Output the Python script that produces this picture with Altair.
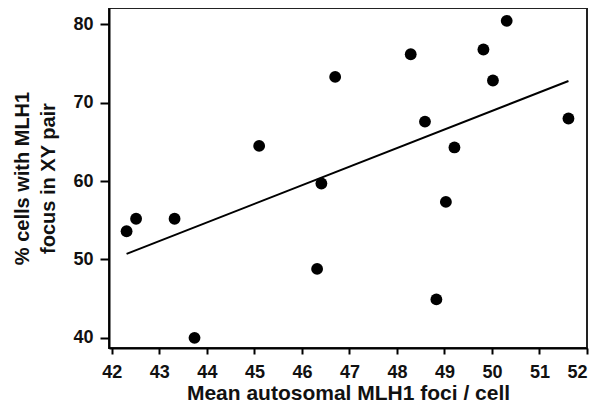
import altair as alt
import pandas as pd

mean_foci = [42.31, 42.51, 43.32, 43.74, 45.10, 46.32, 46.41, 46.70, 48.29,
             48.59, 48.83, 49.03, 49.21, 49.82, 50.02, 50.31, 51.61]
pct_xy = [53.6, 55.2, 55.2, 40.0, 64.5, 48.8, 59.7, 73.3, 76.2,
          67.6, 44.9, 57.35, 64.3, 76.8, 72.85, 80.46, 68.0]
x_ticks = [42, 43, 44, 45, 46, 47, 48, 49, 50, 51, 52]
y_ticks = [40, 50, 60, 70, 80]

df = pd.DataFrame({"x": mean_foci, "y": pct_xy})

FONT = "Liberation Sans"

xenc = alt.X("x:Q", scale=alt.Scale(domain=[41.94, 52], nice=False, zero=False),
             axis=alt.Axis(values=x_ticks, title="Mean autosomal MLH1 foci / cell",
                           grid=False, tickSize=6, labelPadding=9, titlePadding=1,
                           titleFontSize=21))
yenc = alt.Y("y:Q", scale=alt.Scale(domain=[38.7, 82.1], nice=False, zero=False),
             axis=alt.Axis(values=y_ticks, title=["% cells with MLH1", "focus in XY pair"],
                           grid=False, tickSize=9, labelPadding=7, titlePadding=14,
                           titleFontSize=20, titleLineHeight=26))

base = alt.Chart(df)
points = base.mark_circle(size=140, color="black", opacity=1).encode(x=xenc, y=yenc)
line = base.transform_regression("x", "y").mark_line(color="black", strokeWidth=2).encode(
    x="x:Q", y="y:Q")

chart = (line + points).properties(
    width=478, height=340,
    autosize=alt.AutoSizeParams(type="none"),
    padding={"left": 101, "top": 0, "right": 2, "bottom": 56},
).configure_view(stroke="#222222", strokeWidth=2).configure_axis(
    domainColor="black", domainWidth=2, tickColor="black", tickWidth=2,
    labelFont=FONT, labelFontSize=18, labelFontWeight="bold", labelColor="#111111",
    titleFont=FONT, titleFontWeight="bold", titleColor="#111111",
)

chart.save("out.html", embed_options={"renderer": "svg", "actions": False})
